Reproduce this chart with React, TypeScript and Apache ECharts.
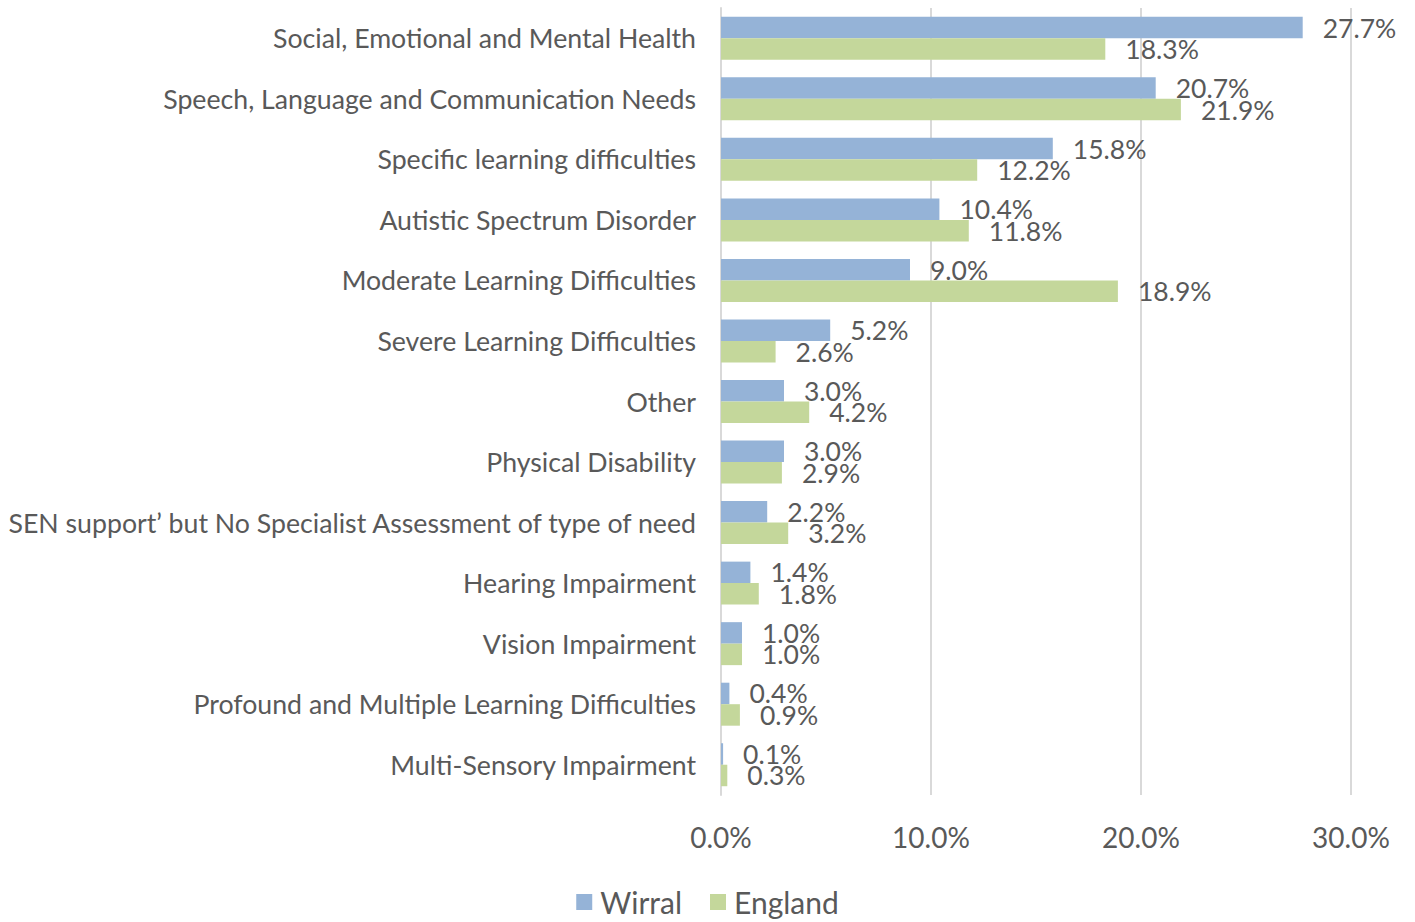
import React, { useEffect, useRef } from "react";
import * as echarts from "echarts";

const categories = [
  "Social, Emotional and Mental Health",
  "Speech, Language and Communication Needs",
  "Specific learning difficulties",
  "Autistic Spectrum Disorder",
  "Moderate Learning Difficulties",
  "Severe Learning Difficulties",
  "Other",
  "Physical Disability",
  "SEN support’ but No Specialist Assessment of type of need",
  "Hearing Impairment",
  "Vision Impairment",
  "Profound and Multiple Learning Difficulties",
  "Multi-Sensory Impairment",
];
const wirral = [27.7, 20.7, 15.8, 10.4, 9.0, 5.2, 3.0, 3.0, 2.2, 1.4, 1.0, 0.4, 0.1];
const england = [18.3, 21.9, 12.2, 11.8, 18.9, 2.6, 4.2, 2.9, 3.2, 1.8, 1.0, 0.9, 0.3];

const FONT = "Lato, 'Liberation Sans', sans-serif";
const TXT = "#595959";

export default function App() {
  const ref = useRef<HTMLDivElement>(null);
  useEffect(() => {
    const chart = echarts.init(ref.current!, null, { renderer: "svg" });
    const label = {
      show: true,
      position: "right",
      distance: 20,
      color: TXT,
      fontSize: 26.5,
      fontFamily: FONT,
      formatter: (p: any) => p.value.toFixed(1) + "%",
    };
    chart.setOption({
      animation: false,
      textStyle: { fontFamily: FONT },
      grid: { left: 721, right: 64, top: 8, bottom: 127 },
      legend: {
        top: 887,
        left: "center",
        padding: 0,
        itemWidth: 16,
        itemHeight: 16,
        itemGap: 28,
        icon: "rect",
        textStyle: { color: TXT, fontSize: 30, fontFamily: FONT, padding: [0, 0, 0, 3] },
        data: ["Wirral", "England"],
      },
      xAxis: {
        type: "value",
        min: 0,
        max: 30,
        interval: 10,
        axisLabel: {
          color: TXT,
          fontSize: 28,
          fontFamily: FONT,
          margin: 28,
          formatter: (v: number) => v.toFixed(1) + "%",
        },
        axisLine: { show: false },
        axisTick: { show: false },
        splitLine: { lineStyle: { color: "#D9D9D9", width: 2 } },
      },
      yAxis: {
        type: "category",
        data: categories,
        inverse: true,
        axisLine: { show: true, lineStyle: { color: "#D9D9D9", width: 2 } },
        axisTick: { show: false },
        axisLabel: { color: TXT, fontSize: 26.7, fontFamily: FONT, margin: 25 },
      },
      series: [
        {
          name: "Wirral",
          type: "bar",
          data: wirral,
          itemStyle: { color: "#95B3D7" },
          barGap: "0%",
          barCategoryGap: "29%",
          label,
        },
        {
          name: "England",
          type: "bar",
          data: england,
          itemStyle: { color: "#C4D79B" },
          barGap: "0%",
          barCategoryGap: "29%",
          label,
        },
      ],
    });
    return () => chart.dispose();
  }, []);
  return (
    <div
      ref={ref}
      style={{ position: "absolute", left: 0, top: 0, width: 1415, height: 922 }}
    />
  );
}
